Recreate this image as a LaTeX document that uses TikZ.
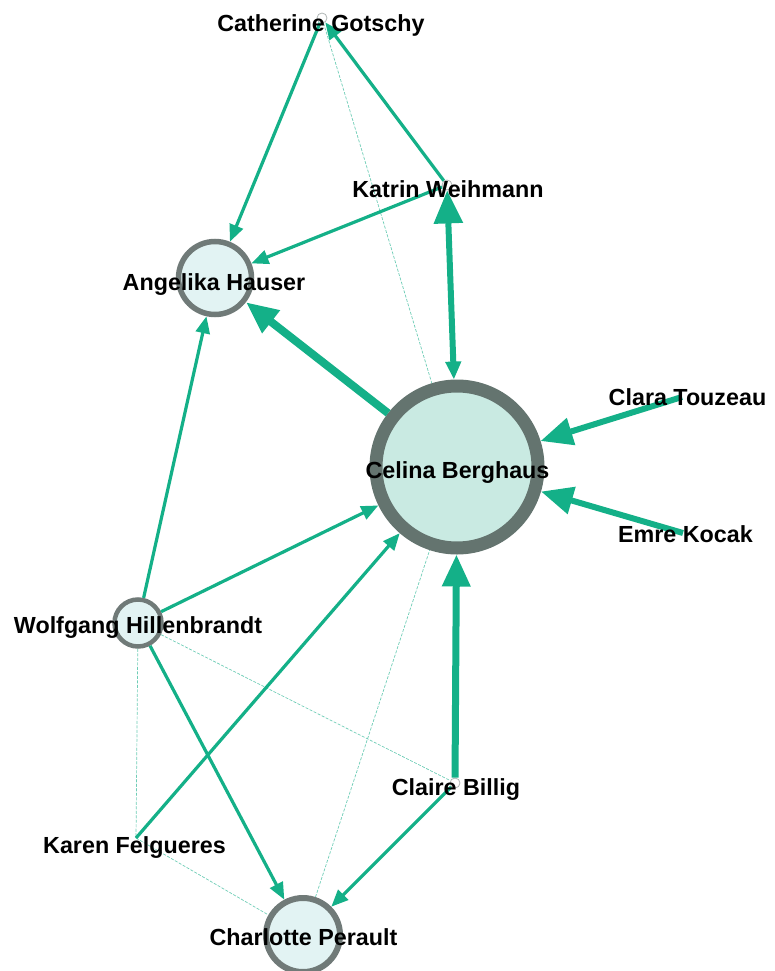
\documentclass[tikz,border=0pt]{standalone}
\usepackage{fontspec}
\setmainfont{Liberation Sans}
\usetikzlibrary{arrows.meta}
\definecolor{edgec}{RGB}{20,176,136}
\definecolor{faintc}{RGB}{110,205,182}
\definecolor{ringc}{RGB}{112,122,120}
\definecolor{bigring}{RGB}{100,116,111}
\definecolor{palefill}{RGB}{226,243,243}
\definecolor{hubfill}{RGB}{201,234,226}
\tikzset{
  hub/.style={circle, draw=ringc, fill=palefill, inner sep=0pt},
  dotnode/.style={circle, draw=ringc!55, fill=white, line width=0.8pt, minimum size=10pt, inner sep=0pt},
  lbl/.style={font=\bfseries\fontsize{23.3}{28}\selectfont, anchor=base, inner sep=0pt, text=black},
  med/.style={draw=edgec, line width=3.2pt, -{Triangle[length=17pt,width=14pt]}},
  heavy/.style={draw=edgec, line width=7pt, -{Triangle[length=32pt,width=27pt]}},
  faint/.style={draw=faintc, line width=0.7pt, dash pattern=on 3pt off 1.5pt},
}
\begin{document}
\begin{tikzpicture}[x=1pt,y=-1pt]
\useasboundingbox (0,0) rectangle (774,971);

% people
\node[dotnode] (cg) at (322,18) {};
\node[dotnode] (kw) at (447,185) {};
\node[hub, minimum size=73pt, line width=5.5pt] (ah) at (215,278) {};
\node[hub, draw=bigring, fill=hubfill, minimum size=162pt, line width=13pt] (cb) at (457,467) {};
\coordinate (ct) at (682,397);
\coordinate (ek) at (683,533);
\node[hub, minimum size=47pt, line width=4.5pt] (wh) at (138,623) {};
\node[dotnode] (cl) at (455,783) {};
\coordinate (kf) at (136,838);
\node[hub, minimum size=74pt, line width=6pt] (cp) at (303,935) {};

% weak ties
\draw[faint] (cg) -- (cb);
\draw[faint] (wh) -- (cl);
\draw[faint] (wh) -- (kf);
\draw[faint] (kf) -- (cp);
\draw[faint] (cp) -- (cb);

% directed ties
\draw[med] (cg) -- (ah);
\draw[med] (kw) -- (cg);
\draw[med] (kw) -- (ah);
\draw[med] (wh) -- (ah);
\draw[med] (wh) -- (cb);
\draw[med] (kf) -- (cb);
\draw[med] (wh) -- (cp);
\draw[med] (cl) -- (cp);
\draw[heavy, line width=8pt] (cb) -- (ah);
\draw[heavy, line width=6pt] (ct) -- (cb);
\draw[heavy, line width=6pt] (ek) -- (cb);
\draw[heavy] (cl) -- (cb);
\draw[draw=edgec, line width=6pt,
      {Triangle[length=18pt,width=15pt]}-{Triangle[length=33pt,width=28pt]}] (cb) -- (kw);

% names
\node[lbl] (tcg) at (321,32) {Catherine Gotschy};
\node[lbl] (tkw) at (448,197) {Katrin Weihmann};
\node[lbl] (tah) at (214,290) {Angelika Hauser};
\node[lbl] (tcb) at (457.5,478) {Celina Berghaus};
\node[lbl] (tct) at (687.5,405) {Clara Touzeau};
\node[lbl] (tek) at (685.5,542) {Emre Kocak};
\node[lbl] (twh) at (138,633) {Wolfgang Hillenbrandt};
\node[lbl] (tcl) at (456,795) {Claire Billig};
\node[lbl] (tkf) at (134.5,853) {Karen Felgueres};
\node[lbl] (tcp) at (303.5,945) {Charlotte Perault};
\end{tikzpicture}
\end{document}
